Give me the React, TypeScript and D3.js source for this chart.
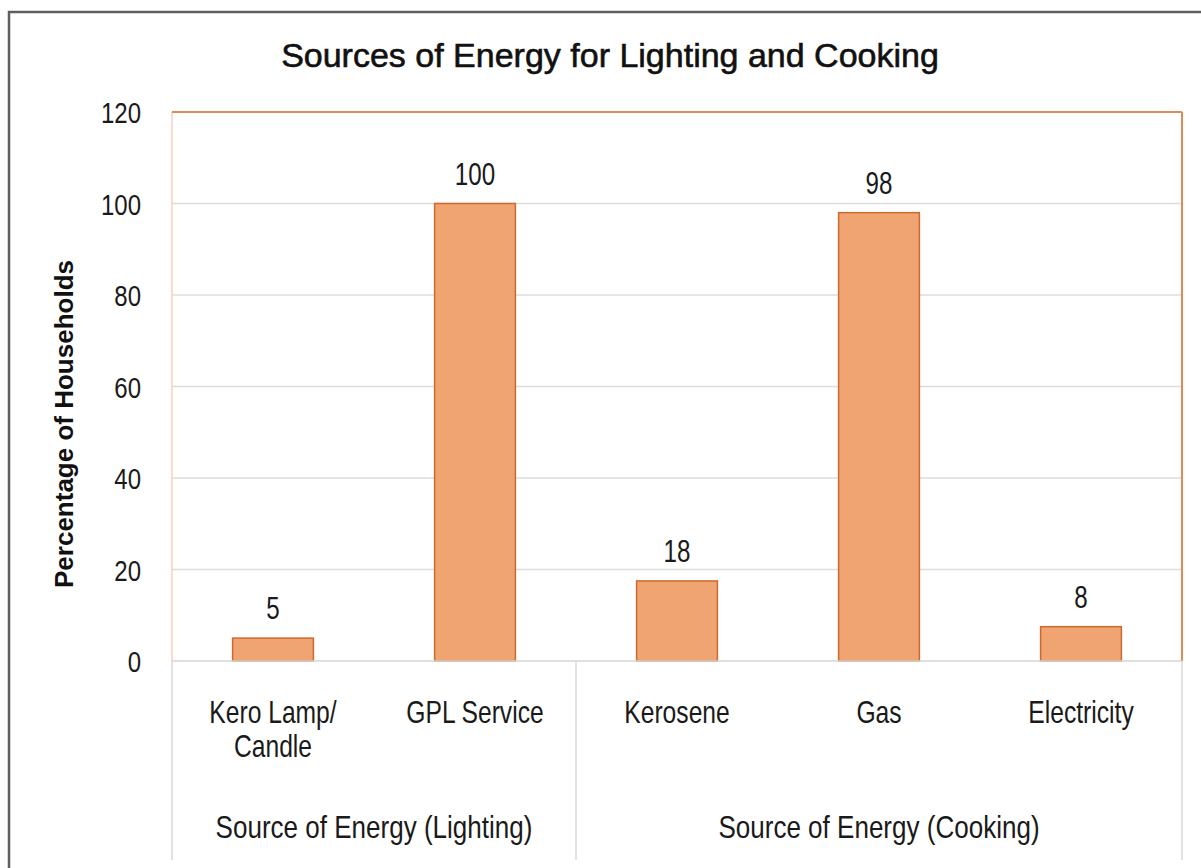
import React from 'react';
import * as d3 from 'd3';

const categories = ['Kero Lamp/\nCandle', 'GPL Service', 'Kerosene', 'Gas', 'Electricity'];
const values = [5, 100, 17.5, 98, 7.5];
const groups = ['Source of Energy (Lighting)', 'Source of Energy (Cooking)'];
const groupSizes = [2, 3];
const yTicks = [0, 20, 40, 60, 80, 100, 120];

const W = 1201;
const H = 868;
const plot = { left: 172, right: 1182, top: 112, bottom: 661 };
const font = '"Liberation Sans", Arial, sans-serif';

// the source uses a condensed face; squeeze regular glyphs horizontally
const Narrow: React.FC<{ x: number; y: number; sx?: number; size: number; anchor?: string; children: React.ReactNode }> =
  ({ x, y, sx = 0.8, size, anchor = 'middle', children }) => (
    <text transform={`translate(${x},${y}) scale(${sx},1)`} textAnchor={anchor}
      fontFamily={font} fontSize={size} fill="#1a1a1a">
      {children}
    </text>
  );

const App: React.FC = () => {
  const x = d3.scaleBand<string>()
    .domain(categories)
    .range([plot.left, plot.right])
    .paddingInner(0.6)
    .paddingOuter(0.3);

  const y = d3.scaleLinear()
    .domain([0, 120])
    .range([plot.bottom, plot.top]);

  const half = (x.step() - x.bandwidth()) / 2;
  const cx = (c: string) => (x(c) ?? 0) + x.bandwidth() / 2;

  // group boundaries on the category axis
  let start = 0;
  const groupSpans = groups.map((g, i) => {
    const first = categories[start];
    const last = categories[start + groupSizes[i] - 1];
    start += groupSizes[i];
    return { name: g, x0: (x(first) ?? 0) - half, x1: (x(last) ?? 0) + x.bandwidth() + half };
  });
  const dividers = [groupSpans[0].x0, ...groupSpans.map(s => s.x1)];

  return (
    <svg width={W} height={H} style={{ position: 'absolute', left: 0, top: 0, background: '#fff' }}>
      {/* outer frame, cropped on right and bottom */}
      <rect x={9} y={12} width={W + 20} height={H + 20} fill="#fff" stroke="#5f5f5f" strokeWidth={2.5} />

      <text x={610} y={67} textAnchor="middle" fontFamily={font} fontSize={34}
        fill="#111" stroke="#111" strokeWidth={0.6}>
        Sources of Energy for Lighting and Cooking
      </text>

      {/* gridlines */}
      {yTicks.filter(t => t > 0 && t < 120).map(t => (
        <line key={t} x1={plot.left} x2={plot.right} y1={y(t)} y2={y(t)} stroke="#dcdcdc" strokeWidth={1.5} />
      ))}

      {/* plot border */}
      <line x1={plot.left} x2={plot.left} y1={y(120)} y2={y(0)} stroke="#f6d2bb" strokeWidth={1.5} />
      <line x1={plot.left} x2={plot.right} y1={y(120)} y2={y(120)} stroke="#e08a55" strokeWidth={2} />
      <line x1={plot.right} x2={plot.right} y1={y(120)} y2={y(0)} stroke="#e08a55" strokeWidth={2} />

      {/* bars */}
      {categories.map((c, i) => (
        <rect key={c} x={x(c)} y={y(values[i])} width={x.bandwidth()} height={y(0) - y(values[i])}
          fill="#f0a472" stroke="#cf6a2e" strokeWidth={1.5} />
      ))}

      {/* data labels */}
      {categories.map((c, i) => (
        <Narrow key={c} x={cx(c)} y={y(values[i]) - 19} size={31} sx={0.78}>
          {Math.round(values[i])}
        </Narrow>
      ))}

      {/* baseline */}
      <line x1={plot.left} x2={plot.right} y1={y(0)} y2={y(0)} stroke="#d6d6d6" strokeWidth={1.5} />

      {/* y tick labels */}
      {yTicks.map(t => (
        <Narrow key={t} x={141} y={y(t) + 11} size={30} sx={0.8} anchor="end">
          {t}
        </Narrow>
      ))}

      <text transform={`translate(73,424) rotate(-90)`} textAnchor="middle"
        fontFamily={font} fontWeight="bold" fontSize={26} fill="#111">
        Percentage of Households
      </text>

      {/* category dividers */}
      {dividers.map((d, i) => (
        <line key={i} x1={d} x2={d} y1={y(0)} y2={860} stroke="#d9d9d9" strokeWidth={1.5} />
      ))}

      {/* category labels */}
      {categories.map(c => (
        <Narrow key={c} x={cx(c)} y={723} size={32} sx={0.77}>
          {c.split('\n').map((line, j) => (
            <tspan key={j} x={0} dy={j === 0 ? 0 : 34}>{line}</tspan>
          ))}
        </Narrow>
      ))}

      {/* group labels */}
      {groupSpans.map(s => (
        <Narrow key={s.name} x={(s.x0 + s.x1) / 2} y={838} size={31} sx={0.84}>
          {s.name}
        </Narrow>
      ))}
    </svg>
  );
};

export default App;
